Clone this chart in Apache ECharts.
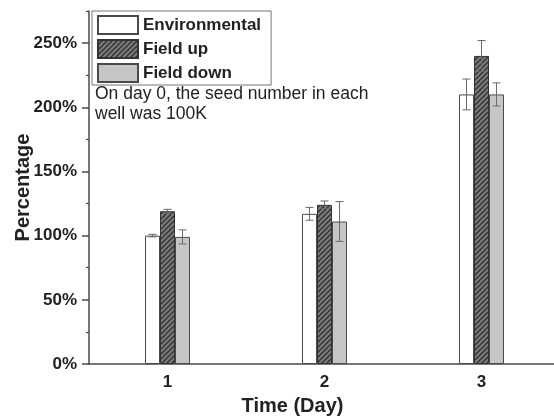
<!DOCTYPE html>
<html>
<head>
<meta charset="utf-8">
<script src="https://cdn.jsdelivr.net/npm/echarts@6/dist/echarts.min.js"></script>
<style>
  html, body { margin: 0; padding: 0; background: #fff; }
  #chart { width: 554px; height: 419px; }
</style>
</head>
<body>
<div id="chart"></div>
<script>
// data
const days = ['1', '2', '3'];
const seriesNames = ['Environmental', 'Field up', 'Field down'];
const environmental = [100, 117, 210];
const fieldUp = [119, 124, 240];
const fieldDown = [99, 111, 210];
const envErr = [1, 5, 12];
const upErr = [1.5, 3, 12];
const downErr = [5.5, 15.5, 9];
const yLabels = [0, 50, 100, 150, 200, 250];
const yMinor = [25, 75, 125, 175, 225, 275];

const font = 'Liberation Sans, Arial, sans-serif';
const ink = '#222';
const edge = '#4a4a4a';

// hatch pattern for "Field up"
function hatch() {
  const c = document.createElement('canvas');
  c.width = 5; c.height = 5;
  const g = c.getContext('2d');
  g.fillStyle = '#7c7c7c';
  g.fillRect(0, 0, 5, 5);
  g.strokeStyle = '#303030';
  g.lineWidth = 1.3;
  g.beginPath();
  g.moveTo(-1, 6); g.lineTo(6, -1);
  g.moveTo(-1, 1); g.lineTo(1, -1);
  g.moveTo(4, 6); g.lineTo(6, 4);
  g.stroke();
  return { image: c, repeat: 'repeat' };
}

const barBase = {
  type: 'bar',
  barWidth: 15,
  barGap: '0%',
  xAxisIndex: 0,
  yAxisIndex: 0
};

function errSeries(vals, errs, shift) {
  return {
    type: 'custom',
    xAxisIndex: 0,
    yAxisIndex: 0,
    silent: true,
    z: 5,
    data: vals.map((v, i) => [i, v - errs[i], v + errs[i]]),
    renderItem(params, api) {
      const lo = api.coord([api.value(0), api.value(1)]);
      const hi = api.coord([api.value(0), api.value(2)]);
      const x = lo[0] + shift;
      const w = 4;
      const style = { stroke: '#6a6a6a', lineWidth: 1 };
      return {
        type: 'group',
        children: [
          { type: 'line', shape: { x1: x, y1: lo[1], x2: x, y2: hi[1] }, style },
          { type: 'line', shape: { x1: x - w, y1: lo[1], x2: x + w, y2: lo[1] }, style },
          { type: 'line', shape: { x1: x - w, y1: hi[1], x2: x + w, y2: hi[1] }, style }
        ]
      };
    }
  };
}

const chart = echarts.init(document.getElementById('chart'));
chart.setOption({
  animation: false,
  backgroundColor: '#fff',
  grid: { left: 89, top: 11, width: 471, height: 353, outerBoundsMode: 'none' },
  legend: {
    orient: 'vertical',
    left: 92,
    top: 11,
    data: seriesNames,
    itemWidth: 40,
    itemHeight: 18,
    itemGap: 4,
    icon: 'rect',
    padding: [4, 10, 2, 5],
    borderColor: '#777',
    borderWidth: 1,
    backgroundColor: '#fff',
    textStyle: { fontFamily: font, fontSize: 17, fontWeight: 'bold', color: ink }
  },
  graphic: [{
    type: 'text',
    left: 95,
    top: 84,
    style: {
      text: 'On day 0, the seed number in each\nwell was 100K',
      fontFamily: font,
      fontSize: 17.5,
      lineHeight: 20,
      fill: ink
    }
  }],
  xAxis: [{
    type: 'category',
    data: days,
    boundaryGap: true,
    name: 'Time (Day)',
    nameLocation: 'middle',
    nameGap: 32,
    nameMoveOverlap: false,
    nameTextStyle: { fontFamily: font, fontSize: 20, fontWeight: 'bold', color: ink, padding: [0, 64, 0, 0] },
    axisLine: { lineStyle: { color: edge, width: 1.5 } },
    axisTick: { alignWithLabel: true, length: 6, lineStyle: { color: edge, width: 1.5 } },
    axisLabel: { margin: 10, fontFamily: font, fontSize: 17, fontWeight: 'bold', color: ink },
    splitLine: { show: false }
  }, {
    type: 'category',
    data: days,
    boundaryGap: true,
    position: 'bottom',
    axisLine: { show: false },
    axisTick: { alignWithLabel: false, length: 3, lineStyle: { color: edge, width: 1.2 } },
    axisLabel: { show: false },
    splitLine: { show: false }
  }],
  yAxis: [{
    type: 'value',
    min: 0,
    max: 275,
    name: 'Percentage',
    nameLocation: 'middle',
    nameGap: 56,
    nameMoveOverlap: false,
    nameTextStyle: { fontFamily: font, fontSize: 20, fontWeight: 'bold', color: ink },
    axisLine: { show: true, lineStyle: { color: edge, width: 1.5 } },
    axisTick: { show: true, length: 7, customValues: yLabels, lineStyle: { color: edge, width: 1.5 } },
    axisLabel: {
      customValues: yLabels,
      margin: 12,
      fontFamily: font, fontSize: 17, fontWeight: 'bold', color: ink,
      formatter: v => v + '%'
    },
    splitLine: { show: false }
  }, {
    type: 'value',
    min: 0,
    max: 275,
    position: 'left',
    axisLine: { show: false },
    axisTick: { show: true, length: 3, customValues: yMinor, lineStyle: { color: edge, width: 1.2 } },
    axisLabel: { show: false },
    splitLine: { show: false }
  }],
  series: [
    Object.assign({}, barBase, {
      name: seriesNames[0],
      data: environmental,
      itemStyle: { color: '#fff', borderColor: edge, borderWidth: 1 }
    }),
    Object.assign({}, barBase, {
      name: seriesNames[1],
      data: fieldUp,
      itemStyle: { color: hatch(), borderColor: '#333', borderWidth: 1 }
    }),
    Object.assign({}, barBase, {
      name: seriesNames[2],
      data: fieldDown,
      itemStyle: { color: '#c6c6c6', borderColor: edge, borderWidth: 1 }
    }),
    errSeries(environmental, envErr, -15),
    errSeries(fieldUp, upErr, 0),
    errSeries(fieldDown, downErr, 15)
  ]
});
</script>
</body>
</html>
